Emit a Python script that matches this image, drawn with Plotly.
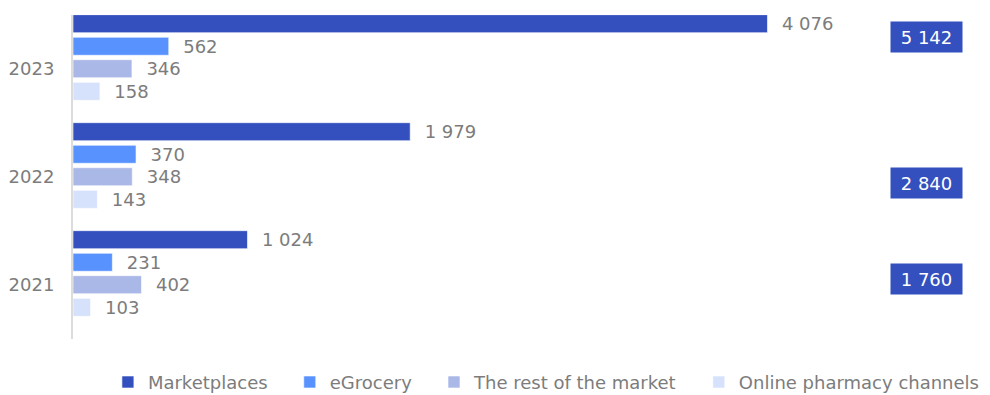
import plotly.graph_objects as go

years = ["2021", "2022", "2023"]
marketplaces = [1024, 1979, 4076]
egrocery = [231, 370, 562]
rest_market = [402, 348, 346]
pharmacy = [103, 143, 158]
totals = [1760, 2840, 5142]

series = [
    ("Marketplaces", marketplaces, "#3350BE", 0.336),
    ("eGrocery", egrocery, "#5792FF", 0.127),
    ("The rest of the market", rest_market, "#AAB8E8", -0.081),
    ("Online pharmacy channels", pharmacy, "#D6E2FC", -0.290),
]

FONT = "DejaVu Sans"
GRAY = "#7c7c7c"
PAD = "\u00a0\u00a0\u00a0"

fig = go.Figure()
for i, (name, vals, color, off) in enumerate(series):
    fig.add_trace(go.Bar(
        name=name + (PAD if i < len(series) - 1 else ""), y=years, x=vals, orientation="h",
        marker=dict(color=color, line=dict(color="rgba(255,255,255,0.6)", width=1)),
        offset=off, width=0.167,
        texttemplate="\u00a0\u00a0%{x:,}", textposition="outside",
        constraintext="none",
        textfont=dict(family=FONT, size=18, color=GRAY),
        cliponaxis=False, hoverinfo="skip",
    ))

# total boxes on the right (paper positions; plot area spans 73..990 px)
total_y = [0.184, 0.48, 0.932]
for t, yp in zip(totals, total_y):
    fig.add_annotation(
        x=(926.5 - 73) / 917, y=yp, xref="paper", yref="paper",
        text=f"{t:,}".replace(",", " "), showarrow=False,
        font=dict(family=FONT, size=18, color="white"),
        bgcolor="#3350BE", width=71, height=30, borderpad=0,
        xanchor="center", yanchor="middle",
    )

fig.update_layout(
    width=990, height=395,
    margin=dict(l=73, r=0, t=15, b=56, autoexpand=False),
    plot_bgcolor="white", paper_bgcolor="white",
    separators=". ",
    barmode="overlay",
    showlegend=True,
    legend=dict(orientation="h", x=0.109, y=0.079, xref="container", yref="container",
                xanchor="left", yanchor="top", itemwidth=30,
                font=dict(family=FONT, size=18, color=GRAY), traceorder="normal"),
    font=dict(family=FONT, size=18, color=GRAY),
    xaxis=dict(range=[0, 5382], visible=False, fixedrange=True),
    yaxis=dict(type="category", categoryorder="array", categoryarray=years,
               range=[-0.5, 2.5], showline=True, linecolor="#dcdcdc", linewidth=2,
               showgrid=False, zeroline=False, ticks="", ticklabelstandoff=13,
               automargin=False,
               tickfont=dict(family=FONT, size=18, color=GRAY)),
)

fig.write_html("out.html")
